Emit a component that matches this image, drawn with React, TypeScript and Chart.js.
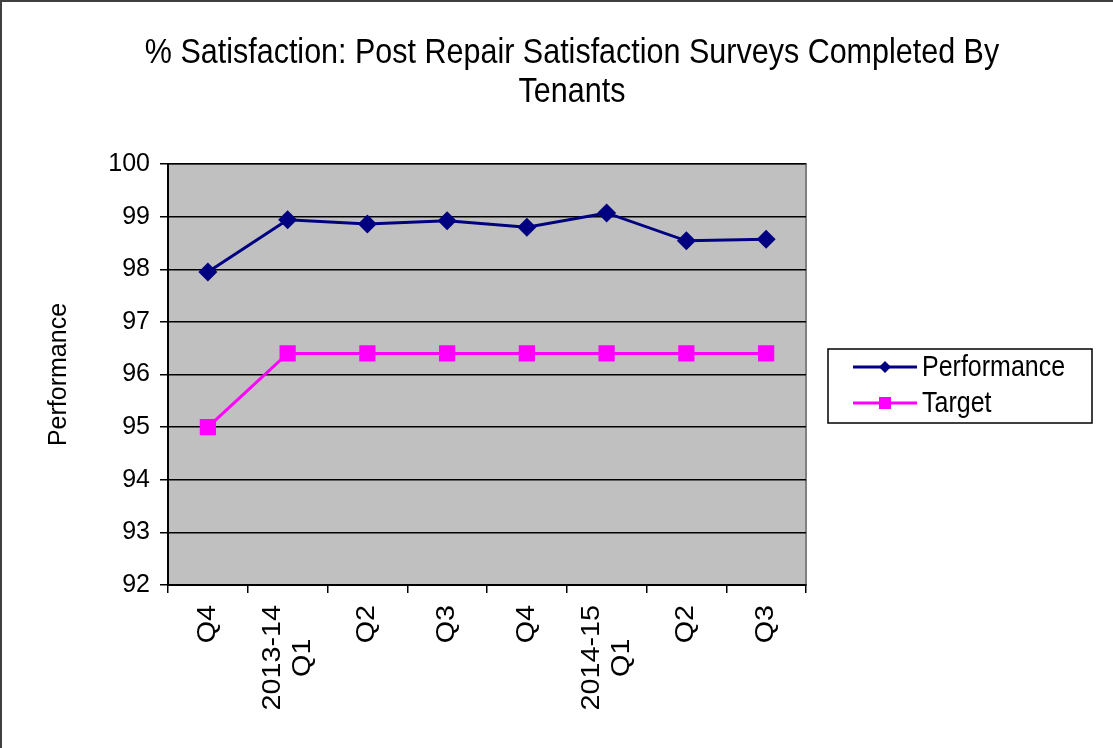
import { useEffect, useRef } from "react";
import { Chart, registerables } from "chart.js";

Chart.register(...registerables);

const categories: string[][] = [
  ["Q4"],
  ["2013-14", "Q1"],
  ["Q2"],
  ["Q3"],
  ["Q4"],
  ["2014-15", "Q1"],
  ["Q2"],
  ["Q3"],
];
const performance = [97.95, 98.94, 98.86, 98.92, 98.8, 99.07, 98.54, 98.57];
const target = [95, 96.4, 96.4, 96.4, 96.4, 96.4, 96.4, 96.4];
const yTicks = [92, 93, 94, 95, 96, 97, 98, 99, 100];
const titleLines = [
  "% Satisfaction: Post Repair Satisfaction Surveys Completed By",
  "Tenants",
];
const yAxisTitle = "Performance";
const seriesNames = ["Performance", "Target"];

const FONT = '"Liberation Sans", Arial, sans-serif';
const NAVY = "#000080";
const MAGENTA = "#FF00FF";
const STRETCH = 1.15;

const decorPlugin = {
  id: "decor",
  beforeDraw(chart: any) {
    const { ctx, chartArea: a, width, height } = chart;
    ctx.save();
    ctx.fillStyle = "#ffffff";
    ctx.fillRect(0, 0, width, height);
    ctx.fillStyle = "#C0C0C0";
    ctx.fillRect(a.left, a.top, a.right - a.left, a.bottom - a.top);
    ctx.strokeStyle = "#808080";
    ctx.lineWidth = 2;
    ctx.strokeRect(a.left, a.top, a.right - a.left, a.bottom - a.top);
    ctx.restore();
  },
  afterDraw(chart: any) {
    const { ctx, chartArea: a } = chart;
    ctx.save();
    // outer border (left and top visible)
    ctx.strokeStyle = "#404040";
    ctx.lineWidth = 2;
    ctx.beginPath();
    ctx.moveTo(1, chart.height + 5);
    ctx.lineTo(1, 1);
    ctx.lineTo(chart.width + 5, 1);
    ctx.stroke();

    // title
    ctx.fillStyle = "#000";
    ctx.font = `30.5px ${FONT}`;
    ctx.textAlign = "center";
    ctx.textBaseline = "alphabetic";
    const baselines = [63, 102];
    titleLines.forEach((t, i) => {
      ctx.save();
      ctx.translate(572, baselines[i]);
      ctx.scale(1, STRETCH);
      ctx.fillText(t, 0, 0);
      ctx.restore();
    });

    // y axis title
    ctx.font = `25px ${FONT}`;
    ctx.save();
    ctx.translate(66, (a.top + a.bottom) / 2);
    ctx.rotate(-Math.PI / 2);
    ctx.textAlign = "center";
    ctx.textBaseline = "alphabetic";
    ctx.fillText(yAxisTitle, 0, 0);
    ctx.restore();

    // x labels
    const xs = chart.scales.x;
    const lh = 30;
    (chart.data.labels as string[][]).forEach((lines, i) => {
      const px = xs.getPixelForTick(i);
      const W = Math.max(...lines.map((l) => ctx.measureText(l).width));
      ctx.save();
      ctx.translate(px, a.bottom + 20);
      ctx.rotate(-Math.PI / 2);
      ctx.scale(STRETCH, 1);
      ctx.textAlign = "center";
      ctx.textBaseline = "middle";
      lines.forEach((l, j) =>
        ctx.fillText(l, -W / 2, (j - (lines.length - 1) / 2) * lh)
      );
      ctx.restore();
    });

    // legend
    const bx = 828, by = 349, bw = 264, bh = 74;
    ctx.fillStyle = "#ffffff";
    ctx.fillRect(bx, by, bw, bh);
    ctx.strokeStyle = "#000";
    ctx.lineWidth = 1.5;
    ctx.strokeRect(bx, by, bw, bh);
    const rows = [367, 403];
    chart.data.datasets.forEach((ds: any, i: number) => {
      const y = rows[i];
      ctx.strokeStyle = ds.borderColor;
      ctx.lineWidth = 3;
      ctx.beginPath();
      ctx.moveTo(853, y);
      ctx.lineTo(917, y);
      ctx.stroke();
      ctx.fillStyle = ds.backgroundColor;
      if (ds.pointStyle === "rectRot") {
        ctx.beginPath();
        ctx.moveTo(885, y - 6);
        ctx.lineTo(891, y);
        ctx.lineTo(885, y + 6);
        ctx.lineTo(879, y);
        ctx.closePath();
        ctx.fill();
      } else {
        ctx.fillRect(879, y - 6, 12, 12);
      }
      ctx.fillStyle = "#000";
      ctx.font = `25px ${FONT}`;
      ctx.textAlign = "left";
      ctx.textBaseline = "middle";
      ctx.save();
      ctx.translate(922, y + 1);
      ctx.scale(1, STRETCH);
      ctx.fillText(ds.label, 0, 0);
      ctx.restore();
    });
    ctx.restore();
  },
};

export default function App() {
  const ref = useRef<HTMLCanvasElement | null>(null);

  useEffect(() => {
    document.body.style.margin = "0";
    if (!ref.current) return;
    const chart = new Chart(ref.current, {
      type: "line",
      data: {
        labels: categories as any,
        datasets: [
          {
            label: seriesNames[0],
            data: performance,
            borderColor: NAVY,
            backgroundColor: NAVY,
            borderWidth: 3,
            pointStyle: "rectRot",
            pointRadius: 9.5,
            pointBorderWidth: 0,
            tension: 0,
          },
          {
            label: seriesNames[1],
            data: target,
            borderColor: MAGENTA,
            backgroundColor: MAGENTA,
            borderWidth: 3,
            pointStyle: "rect",
            pointRadius: 11.5,
            pointBorderWidth: 0,
            tension: 0,
          },
        ],
      },
      options: {
        responsive: false,
        animation: false,
        devicePixelRatio: 1,
        layout: { padding: { top: 164, right: 307, bottom: 0, left: 0 } },
        plugins: {
          legend: { display: false },
          title: { display: false },
          tooltip: { enabled: false },
        },
        scales: {
          x: {
            type: "category",
            offset: true,
            grid: {
              offset: true,
              drawOnChartArea: false,
              drawTicks: true,
              tickLength: 8,
              color: "#000",
              lineWidth: 1.5,
            },
            border: { display: true, color: "#000", width: 2 },
            ticks: { display: false },
            afterFit: (s: any) => {
              s.height = 163;
            },
          },
          y: {
            min: 92,
            max: 100,
            afterBuildTicks: (s: any) => {
              s.ticks = yTicks.map((v) => ({ value: v }));
            },
            ticks: {
              color: "#000",
              font: { family: FONT, size: 25 },
              padding: 10,
            },
            grid: {
              color: "#000",
              lineWidth: 1.5,
              tickLength: 8,
            },
            border: { display: true, color: "#000", width: 2 },
            afterFit: (s: any) => {
              s.width = 168;
            },
          },
        },
      },
      plugins: [decorPlugin],
    });
    return () => chart.destroy();
  }, []);

  return (
    <div style={{ width: 1113, height: 748 }}>
      <canvas ref={ref} width={1113} height={748} />
    </div>
  );
}
